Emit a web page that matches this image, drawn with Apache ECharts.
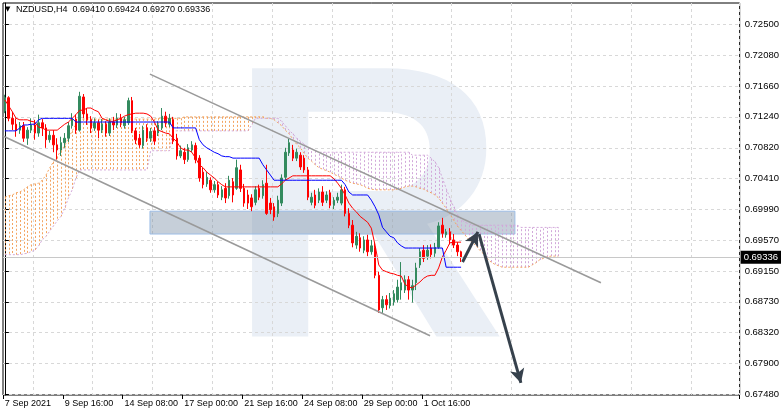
<!DOCTYPE html>
<html><head><meta charset="utf-8">
<script src="https://cdn.jsdelivr.net/npm/echarts@6/dist/echarts.min.js"></script>
<style>html,body{margin:0;padding:0;background:#fff}#c{width:782px;height:416px}</style>
</head><body><div id="c"></div>
<script>
const symbolName = 'NZDUSD,H4';
const quoteText = '0.69410 0.69424 0.69270 0.69336';
const xLabels = ['7 Sep 2021','9 Sep 16:00','14 Sep 08:00','17 Sep 00:00','21 Sep 16:00','24 Sep 08:00','29 Sep 00:00','1 Oct 16:00'];
const labelStep = 16;
const slotCount = 197;
const yTicks = [0.6748,0.6790,0.6832,0.6873,0.6915,0.6957,0.6999,0.7041,0.7082,0.7124,0.7166,0.7208,0.7250];
const lastPrice = 0.69336;

const opens = [0.7132,0.7150,0.7122,0.7114,0.7106,0.7112,0.7095,0.7106,0.7113,0.7102,
0.7116,0.7109,0.7093,0.7099,0.7086,0.7079,0.7089,0.7095,0.7112,0.7121,
0.7106,0.7151,0.7128,0.7120,0.7109,0.7116,0.7106,0.7114,0.7102,0.7117,
0.7113,0.7122,0.7112,0.7116,0.7146,0.7105,0.7095,0.7085,0.7109,0.7095,
0.7105,0.7102,0.7109,0.7125,0.7114,0.7120,0.7095,0.7071,0.7076,0.7066,
0.7079,0.7085,0.7068,0.7049,0.7033,0.7038,0.7025,0.7032,0.7015,0.7027,
0.7017,0.7036,0.7027,0.7052,0.7027,0.7018,0.7014,0.7008,0.7027,0.7017,
0.7034,0.7007,0.7002,0.6993,0.7007,0.7042,0.7075,0.7079,0.7068,0.7072,
0.7068,0.7052,0.7008,0.7018,0.7011,0.7022,0.7011,0.7021,0.7004,0.7011,
0.7007,0.7025,0.6993,0.6977,0.6950,0.6960,0.6943,0.6957,0.6941,0.6947,
0.6909,0.6865,0.6876,0.6868,0.6873,0.6876,0.6889,0.6889,0.6903,0.6889,
0.6899,0.6923,0.6943,0.6935,0.6946,0.6939,0.6947,0.6977,0.6964,0.6968,
0.6957,0.6950,0.69410];
const closes = [0.7150,0.7122,0.7114,0.7106,0.7112,0.7095,0.7106,0.7113,0.7102,0.7116,
0.7109,0.7093,0.7099,0.7086,0.7079,0.7089,0.7095,0.7112,0.7121,0.7106,
0.7152,0.7128,0.7120,0.7109,0.7116,0.7106,0.7114,0.7102,0.7117,0.7113,
0.7122,0.7116,0.7120,0.7146,0.7105,0.7093,0.7086,0.7106,0.7095,0.7104,
0.7091,0.7113,0.7125,0.7116,0.7122,0.7091,0.7071,0.7078,0.7066,0.7082,
0.7086,0.7066,0.7041,0.7032,0.7042,0.7025,0.7032,0.7018,0.7025,0.7014,
0.7038,0.7018,0.7055,0.7027,0.7007,0.7007,0.7002,0.7025,0.7015,0.7032,
0.6993,0.6998,0.6988,0.7011,0.7041,0.7076,0.7089,0.7068,0.7076,0.7056,
0.7052,0.7015,0.7015,0.7004,0.7022,0.7008,0.7018,0.7004,0.7011,0.7015,
0.7025,0.6993,0.6977,0.6953,0.6962,0.6946,0.6957,0.6941,0.6949,0.6909,
0.6862,0.6876,0.6869,0.6878,0.6884,0.6893,0.6899,0.6903,0.6889,0.6895,
0.6919,0.6941,0.6932,0.6943,0.6937,0.6947,0.6976,0.6966,0.6968,0.6957,
0.6950,0.6941,0.69336];
const highs = [0.7154,0.7152,0.7131,0.7122,0.7117,0.7117,0.7110,0.7122,0.7120,0.7127,
0.7121,0.7114,0.7105,0.7106,0.7095,0.7097,0.7102,0.7117,0.7129,0.7127,
0.7158,0.7155,0.7136,0.7125,0.7122,0.7120,0.7121,0.7118,0.7122,0.7124,
0.7129,0.7128,0.7124,0.7150,0.7151,0.7109,0.7101,0.7112,0.7114,0.7109,
0.7110,0.7118,0.7136,0.7131,0.7128,0.7124,0.7101,0.7085,0.7082,0.7087,
0.7091,0.7089,0.7072,0.7055,0.7049,0.7042,0.7037,0.7036,0.7030,0.7034,
0.7044,0.7041,0.7066,0.7059,0.7033,0.7025,0.7019,0.7030,0.7032,0.7038,
0.7059,0.7014,0.7007,0.7017,0.7046,0.7082,0.7095,0.7086,0.7081,0.7076,
0.7072,0.7056,0.7021,0.7025,0.7027,0.7030,0.7023,0.7025,0.7015,0.7021,
0.7032,0.7029,0.7000,0.6984,0.6968,0.6966,0.6962,0.6964,0.6957,0.6953,
0.6914,0.6881,0.6882,0.6885,0.6889,0.6903,0.6927,0.6909,0.6908,0.6903,
0.6926,0.6946,0.6950,0.6950,0.6951,0.6953,0.6981,0.6987,0.6972,0.6973,
0.6965,0.6954,0.69424];
const lows = [0.7129,0.7118,0.7106,0.7097,0.7101,0.7090,0.7086,0.7102,0.7093,0.7097,
0.7098,0.7082,0.7089,0.7076,0.7066,0.7071,0.7082,0.7090,0.7108,0.7101,
0.7104,0.7122,0.7113,0.7102,0.7105,0.7095,0.7102,0.7097,0.7098,0.7106,
0.7109,0.7110,0.7108,0.7113,0.7102,0.7087,0.7082,0.7081,0.7090,0.7090,
0.7086,0.7098,0.7106,0.7110,0.7110,0.7087,0.7066,0.7068,0.7060,0.7063,
0.7076,0.7061,0.7036,0.7027,0.7029,0.7021,0.7021,0.7014,0.7011,0.7007,
0.7013,0.7008,0.7025,0.7022,0.7002,0.6999,0.6996,0.7004,0.7011,0.7013,
0.6991,0.6992,0.6983,0.6988,0.7003,0.7038,0.7071,0.7064,0.7064,0.7052,
0.7048,0.7011,0.7004,0.7000,0.7007,0.7003,0.7007,0.7000,0.6999,0.7007,
0.7004,0.6989,0.6973,0.6947,0.6945,0.6941,0.6939,0.6935,0.6937,0.6905,
0.6858,0.6858,0.6862,0.6864,0.6868,0.6872,0.6876,0.6885,0.6876,0.6872,
0.6889,0.6919,0.6927,0.6930,0.6932,0.6934,0.6945,0.6960,0.6960,0.6951,
0.6946,0.6935,0.69270];

const tenkan = [0.7147,0.7139,0.7131,
0.7122,0.7120,0.7120,0.7120,0.7118,0.7117,
0.7110,0.7109,0.7106,0.7106,0.7106,0.7106,
0.7110,0.7114,0.7117,0.7122,0.7127,
0.7133,0.7133,0.7136,0.7136,0.7133,0.7131,
0.7122,0.7120,0.7118,0.7118,0.7120,0.7122,
0.7125,0.7127,0.7128,0.7129,0.7129,0.7129,
0.7128,0.7125,0.7117,0.7106,
0.7104,0.7102,0.7101,0.7095,0.7090,
0.7082,0.7079,0.7079,0.7076,0.7068,0.7059,
0.7055,0.7049,0.7045,0.7041,0.7036,0.7032,
0.7029,0.7029,0.7029,0.7029,0.7029,0.7029,0.7029,0.7029,0.7029,0.7029,0.7029,0.7029,0.7029,0.7029,0.7029,
0.7033,0.7038,0.7041,
0.7044,0.7044,0.7044,0.7044,0.7044,0.7044,0.7044,0.7044,0.7044,0.7044,0.7044,
0.7040,0.7034,0.7027,0.7018,0.7007,0.7000,0.6995,0.6989,0.6985,0.6981,
0.6973,0.6950,0.6923,0.6916,0.6914,0.6912,0.6911,0.6909,0.6908,0.6897,
0.6893,0.6892,0.6896,0.6900,0.6905,0.6908,0.6909,0.6909,0.6919,0.6934,
0.6943,0.6953,0.6954,0.6954,0.6954];
const kijun = [0.7105,0.7105,0.7105,0.7105,0.7109,0.7113,0.7113,0.7114,0.7114,0.7120,
0.7122,0.7122,0.7122,0.7122,0.7122,0.7122,0.7122,0.7122,0.7122,
0.7117,0.7117,0.7117,0.7117,0.7117,0.7117,0.7117,0.7117,0.7117,0.7117,0.7117,0.7117,0.7117,
0.7117,0.7117,0.7117,0.7117,0.7117,0.7117,0.7117,0.7117,0.7117,0.7117,0.7117,0.7117,0.7117,
0.7109,0.7109,0.7109,0.7109,0.7109,0.7109,0.7109,
0.7093,0.7086,0.7082,
0.7079,0.7076,0.7074,0.7071,0.7070,0.7070,
0.7068,0.7068,0.7068,0.7068,0.7068,0.7068,0.7068,0.7068,
0.7059,0.7052,0.7045,
0.7038,0.7038,0.7038,0.7038,0.7038,0.7038,0.7038,0.7038,0.7038,0.7038,
0.7038,0.7038,0.7038,0.7038,0.7038,0.7038,0.7038,0.7038,0.7038,
0.7032,
0.7022,0.7018,0.7018,0.7018,0.7018,0.7018,
0.7011,0.7002,0.6991,0.6974,0.6968,0.6962,0.6960,0.6953,0.6949,
0.6946,0.6946,0.6946,0.6946,0.6946,0.6946,0.6946,0.6946,0.6946,0.6946,0.6946,
0.6920,0.6920,0.6920,0.6920,0.6920];
const spanA = [0.7015,0.7017,0.7018,0.7021,0.7022,0.7025,0.7029,0.7032,0.7033,0.7034,
0.7038,0.7045,0.7055,0.7063,0.7070,0.7078,0.7085,0.7095,0.7105,0.7114,0.7120,
0.7121,0.7121,0.7121,0.7121,0.7121,0.7121,0.7121,0.7121,0.7121,0.7121,
0.7121,0.7121,0.7121,0.7121,0.7121,0.7121,0.7121,0.7121,0.7121,0.7121,
0.7122,0.7122,0.7122,0.7122,0.7122,0.7122,0.7122,
0.7124,0.7124,0.7124,0.7124,0.7124,0.7124,0.7124,0.7124,0.7124,0.7124,0.7124,
0.7124,0.7124,0.7124,0.7124,0.7124,0.7124,0.7124,0.7124,0.7124,0.7124,0.7124,
0.7122,0.7122,0.7120,0.7116,0.7112,0.7106,0.7101,0.7094,0.7087,0.7082,
0.7075,0.7068,0.7064,0.7059,0.7055,0.7053,0.7051,0.7049,0.7046,0.7044,
0.7041,0.7038,0.7036,0.7034,0.7033,0.7032,0.7030,0.7027,0.7026,
0.7025,0.7025,0.7025,0.7025,0.7025,0.7025,
0.7026,0.7027,0.7029,0.7030,0.7030,0.7029,0.7027,0.7026,0.7023,0.7021,
0.7018,0.7014,0.7007,0.7000,0.6992,0.6984,0.6976,0.6970,0.6964,0.6958,
0.6954,0.6949,0.6943,0.6938,0.6932,0.6927,0.6924,0.6922,
0.6920,0.6920,0.6920,0.6920,0.6920,0.6920,0.6920,0.6920,
0.6923,0.6926,0.6930,0.6932,0.6934,0.6935,0.6935,0.6935];
const spanB = [0.6937,0.6937,0.6937,0.6937,0.6937,
0.6938,0.6939,0.6941,0.6943,0.6949,0.6957,0.6962,0.6969,0.6976,0.6983,0.6989,0.7000,0.7014,0.7025,0.7041,0.7052,
0.7052,0.7052,0.7052,0.7052,0.7052,0.7052,0.7052,0.7052,0.7052,
0.7052,0.7052,0.7052,0.7052,0.7052,0.7052,0.7052,0.7052,0.7052,
0.7078,0.7078,0.7078,0.7078,0.7078,0.7078,
0.7105,0.7105,0.7105,0.7105,0.7105,0.7105,0.7105,0.7105,0.7105,0.7105,0.7105,
0.7105,0.7105,0.7105,0.7105,0.7105,0.7105,0.7105,0.7105,0.7105,0.7105,
0.7113,
0.7122,0.7122,0.7122,0.7122,0.7122,0.7122,0.7122,
0.7118,0.7112,0.7106,0.7101,0.7095,0.7091,0.7087,0.7083,0.7081,0.7078,
0.7076,0.7076,0.7076,0.7076,0.7076,0.7076,0.7076,0.7076,0.7076,0.7076,
0.7076,0.7076,0.7076,0.7076,0.7076,0.7076,0.7076,0.7076,0.7076,0.7076,
0.7076,0.7076,0.7076,0.7076,0.7076,
0.7072,0.7072,0.7072,0.7072,0.7072,
0.7068,0.7063,0.7055,0.7041,0.7027,0.7014,0.7002,0.6992,0.6985,0.6981,0.6979,
0.6977,0.6977,0.6977,0.6977,0.6977,0.6977,0.6977,0.6977,0.6977,0.6977,0.6977,0.6977,0.6977,
0.6974,0.6974,0.6974,0.6974,0.6974,0.6974,0.6974,0.6974,0.6974,0.6974,0.6974];

// annotation objects (x in bar slots, y in price)
const channelUpper = [[38.8,0.7182],[159.4,0.6899]];
const channelLower = [[-0.5,0.7098],[113.7,0.6827]];
const zoneBox = [[38.8,0.6996],[136.4,0.6965]];
const arrowUp = [[122.4,0.6927],[126.5,0.6968]];
const arrowDown = [[126.8,0.6965],[138.0,0.6763]];

const cats = Array.from({length: slotCount}, (_, i) => String(i));
const candleData = opens.map((o, i) => [o, closes[i], lows[i], highs[i]]);
const cloudData = spanA.map((a, i) => [i, a, spanB[i]]);

const chart = echarts.init(document.getElementById('c'), null, {renderer: 'canvas'});
const FONT = '"Liberation Sans", Arial, sans-serif';
const option = {
  animation: false,
  backgroundColor: '#ffffff',
  grid: {left: 3, top: 3, right: 42, bottom: 21, show: true, borderColor: '#000', borderWidth: 1, backgroundColor: 'transparent'},
  graphic: [
    {type: 'text', z: 0, left: 226, top: 34, 
      style: {text: 'R', font: 'bold 390px "Liberation Sans"', fill: '#eaeff6'}},
    {type: 'text', z: 100, left: 5, top: 6, style: {text: '\u25BC', font: '7px "DejaVu Sans"', fill: '#000'}},
    {type: 'text', z: 100, left: 16, top: 5, style: {text: symbolName + '  ' + quoteText, font: '9px ' + FONT, fill: '#000'}}
  ],
  xAxis: [{
    type: 'category', data: cats, boundaryGap: true,
    axisLine: {show: false},
    axisTick: {show: true, length: 4, interval: (i) => i % labelStep === 0 && i / labelStep < xLabels.length, lineStyle: {color: '#000'}},
    axisLabel: {interval: (i) => i % labelStep === 0 && i / labelStep < xLabels.length,
      formatter: (v, i) => xLabels[Math.round(i / labelStep)] || '', align: 'left', fontSize: 9, fontFamily: FONT, color: '#000', margin: 4},
    splitLine: {show: true, interval: (i) => i % labelStep === labelStep / 2, lineStyle: {color: '#d8d8d8', type: [3, 3]}}
  }, {
    type: 'value', min: -0.5, max: slotCount - 0.5, show: false
  }],
  yAxis: {
    type: 'value', position: 'right', min: 0.67466, max: 0.72785,
    axisLine: {show: true, lineStyle: {color: '#000'}},
    axisTick: {show: true, length: 4, customValues: yTicks, lineStyle: {color: '#000'}},
    axisLabel: {customValues: yTicks, formatter: (v) => v.toFixed(5), fontSize: 9.5, fontFamily: FONT, color: '#000', margin: 5},
    splitLine: {show: true, lineStyle: {color: '#d8d8d8', type: [3, 3]}}
  },
  series: [
    {type: 'custom', name: 'cloud', z: 1, data: cloudData, encode: {x: 0, y: [1, 2]},
      renderItem: function (params, api) {
        const i = api.value(0), a = api.value(1), b = api.value(2);
        const p1 = api.coord([i, a]), p2 = api.coord([i, b]);
        const x = Math.round(p1[0]) + 0.5;
        return {type: 'line', shape: {x1: x, y1: p1[1], x2: x, y2: p2[1]},
          style: {stroke: a >= b ? '#f4a460' : '#d2a8da', lineWidth: 1, lineDash: [2, 2]}};
      }},
    {type: 'line', name: 'spanA', z: 2, data: spanA, showSymbol: false, symbol: 'none',
      lineStyle: {color: '#f4a460', width: 1, type: [2, 2]}},
    {type: 'line', name: 'spanB', z: 2, data: spanB, showSymbol: false, symbol: 'none',
      lineStyle: {color: '#d2a8da', width: 1, type: [2, 2]}},
    {type: 'line', name: 'lastPrice', xAxisIndex: 1, z: 2, data: [],
      markLine: {silent: true, symbol: ['none', 'none'], animation: false, precision: 5,
        lineStyle: {color: '#c8c8c8', width: 1, type: 'solid'},
        label: {show: true, position: 'end', distance: 1, formatter: lastPrice.toFixed(5), color: '#fff', backgroundColor: '#000',
          padding: [2, 3, 1, 3], fontSize: 9.5, fontFamily: FONT},
        data: [{yAxis: lastPrice}]}},
    {type: 'candlestick', name: 'NZDUSD', z: 3, data: candleData, barWidth: 2,
      itemStyle: {color: '#338a5e', color0: '#ff0000', borderColor: '#338a5e', borderColor0: '#ff0000', borderWidth: 1}},
    {type: 'line', name: 'tenkan', z: 4, data: tenkan, showSymbol: false, symbol: 'none', lineStyle: {color: '#ff0000', width: 1}},
    {type: 'line', name: 'kijun', z: 4, data: kijun, showSymbol: false, symbol: 'none', lineStyle: {color: '#0000ff', width: 1}},
    {type: 'line', name: 'zone', xAxisIndex: 1, z: 5, data: [], 
      markArea: {silent: true, itemStyle: {color: 'rgba(120,140,165,0.42)', borderColor: 'rgba(150,185,230,0.9)', borderWidth: 1},
        data: [[{coord: zoneBox[0]}, {coord: zoneBox[1]}]]}},
    {type: 'line', name: 'channelUpper', xAxisIndex: 1, z: 6, data: channelUpper, showSymbol: false, symbol: 'none',
      lineStyle: {color: '#9a9a9a', width: 1.6}},
    {type: 'line', name: 'channelLower', xAxisIndex: 1, z: 6, data: channelLower, showSymbol: false, symbol: 'none',
      lineStyle: {color: '#9a9a9a', width: 1.6}},
    {type: 'line', name: 'arrows', xAxisIndex: 1, z: 7, data: [],
      markLine: {silent: true, symbol: ['none', 'arrow'], symbolSize: [11, 14], animation: false, precision: 5,
        lineStyle: {color: '#36414c', width: 3, type: 'solid'}, label: {show: false},
        data: [[{coord: arrowUp[0]}, {coord: arrowUp[1]}], [{coord: arrowDown[0]}, {coord: arrowDown[1]}]]}}
  ]
};
chart.setOption(option);
</script>
</body></html>
